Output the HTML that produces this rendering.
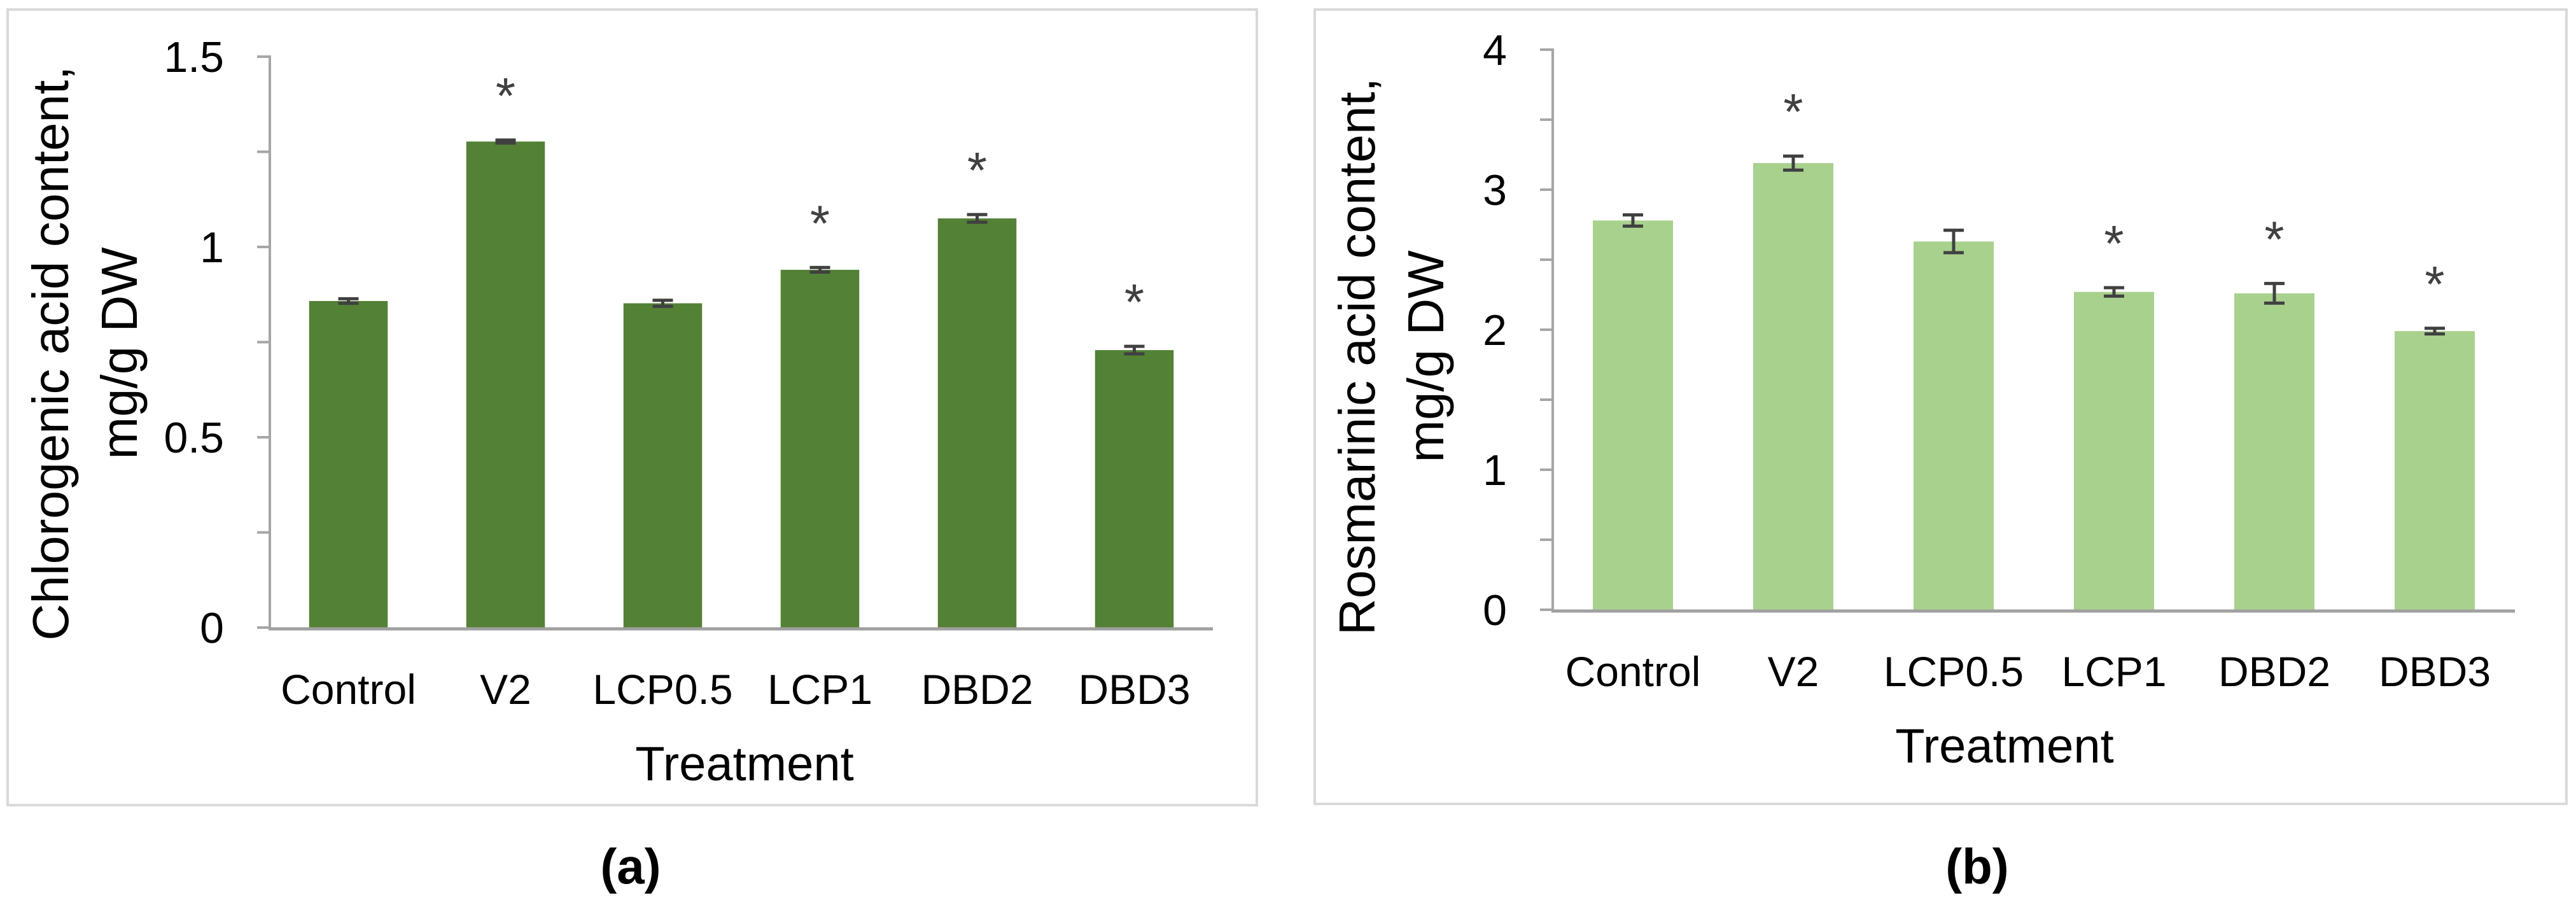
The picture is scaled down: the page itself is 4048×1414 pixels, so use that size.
<!DOCTYPE html>
<html><head><meta charset="utf-8"><style>
html,body{margin:0;padding:0;background:#fff;}
svg{display:block;font-family:"Liberation Sans",sans-serif;}
</style></head><body>
<svg id="fig" width="4048" height="1414" viewBox="0 0 4048 1414" xmlns="http://www.w3.org/2000/svg">
<rect x="0" y="0" width="4048" height="1414" fill="#fff"/>
<rect x="12" y="15" width="1963" height="1250" fill="none" stroke="#d9d9d9" stroke-width="4"/>
<rect x="2066" y="15" width="1967" height="1248" fill="none" stroke="#d9d9d9" stroke-width="4"/>
<g id="pa"></g>
<g id="pb"></g>
<text x="991" y="1388" font-size="78" font-weight="bold" text-anchor="middle" fill="#000">(a)</text>
<text x="3107" y="1388" font-size="78" font-weight="bold" text-anchor="middle" fill="#000">(b)</text>
</svg>
<script>
const categories = ["Control","V2","LCP0.5","LCP1","DBD2","DBD3"];
const valuesA = [0.858, 1.277, 0.852, 0.94, 1.075, 0.729];
const errorsA = [0.006, 0.004, 0.008, 0.006, 0.01, 0.01];
const sigA = [false, true, false, true, true, true];
const ticksA = [0, 0.25, 0.5, 0.75, 1, 1.25, 1.5];
const tickLabelsA = ["0","","0.5","","1","","1.5"];
const valuesB = [2.78, 3.19, 2.63, 2.27, 2.26, 1.99];
const errorsB = [0.04, 0.05, 0.08, 0.03, 0.07, 0.02];
const sigB = [false, true, false, true, true, true];
const ticksB = [0, 0.5, 1, 1.5, 2, 2.5, 3, 3.5, 4];
const tickLabelsB = ["0","","1","","2","","3","","4"];

const NS = "http://www.w3.org/2000/svg";
function mk(parent, tag, attrs, text){
  const e = document.createElementNS(NS, tag);
  for (const k in attrs) e.setAttribute(k, attrs[k]);
  if (text !== undefined) e.textContent = text;
  parent.appendChild(e);
  return e;
}

function drawChart(g, cfg){
  const y = v => cfg.y0 - (v - 0) / (cfg.ymax) * (cfg.y0 - cfg.ytop);
  const pitch = (cfg.xR - cfg.xL) / categories.length;
  const cx = i => cfg.xL + pitch * (i + 0.5);
  const bw = pitch * 0.5;
  cfg.ticks.forEach((t, i) => {
    const tk = mk(g, "line", {x1: cfg.xL - 20, x2: cfg.xL, y1: y(t), y2: y(t), stroke: "#a6a6a6", "stroke-width": 4});
    
    
    if (cfg.tickLabels[i] !== "") {
      const tl = mk(g, "text", {x: cfg.xL - 72, y: y(t) + 24, "font-size": 68, "text-anchor": "end", fill: "#000"}, cfg.tickLabels[i]);
      
      
    }
  });
  cfg.values.forEach((v, i) => {
    const b = mk(g, "rect", {x: cx(i) - bw / 2, y: y(v), width: bw, height: y(0) - y(v), fill: cfg.color});
    
    
    const e = cfg.errors[i];
    const eg = mk(g, "g", {stroke: "#404040", "stroke-width": 5});
    
    
    mk(eg, "line", {x1: cx(i), x2: cx(i), y1: y(v + e), y2: y(v - e)});
    mk(eg, "line", {x1: cx(i) - 16, x2: cx(i) + 16, y1: y(v + e), y2: y(v + e)});
    mk(eg, "line", {x1: cx(i) - 16, x2: cx(i) + 16, y1: y(v - e), y2: y(v - e)});
    if (cfg.sig[i]) {
      const s = mk(g, "text", {x: cx(i), y: y(v + e) - 88 + 46, "font-size": 80, "text-anchor": "middle", fill: "#404040"}, "*");
      
      
    }
    const cl = mk(g, "text", {x: cx(i), y: y(0) + 120, "font-size": 66, "text-anchor": "middle", fill: "#000"}, categories[i]);
    
    
  });
  const ya = mk(g, "line", {x1: cfg.xL, x2: cfg.xL, y1: y(cfg.ymax) - 2, y2: y(0), stroke: "#a6a6a6", "stroke-width": 4});
  
  
  const xa = mk(g, "line", {x1: cfg.xL - 2, x2: cfg.xR, y1: y(0) + 2, y2: y(0) + 2, stroke: "#a0a0a0", "stroke-width": 5});
  
  
  const xt = mk(g, "text", {x: cfg.xTitleX, y: y(0) + 240, "font-size": 76, "text-anchor": "middle", fill: "#000"}, "Treatment");
  
  
  const yt = mk(g, "text", {transform: "translate(" + cfg.yTitleX + "," + cfg.yTitleY + ") rotate(-90)", "font-size": 80, "text-anchor": "middle", fill: "#000"});
  
  
  mk(yt, "tspan", {x: 0, y: 0}, cfg.title1);
  mk(yt, "tspan", {x: 0, y: 108}, cfg.title2);
}

drawChart(document.getElementById("pa"), {
  xL: 424, xR: 1906, y0: 986, ytop: 89, ymax: 1.5, color: "#538135",
  values: valuesA, errors: errorsA, sig: sigA, ticks: ticksA, tickLabels: tickLabelsA,
  xTitleX: 1170, yTitleX: 107, yTitleY: 555, title1: "Chlorogenic acid content,", title2: "mg/g DW"
});
drawChart(document.getElementById("pb"), {
  xL: 2440, xR: 3952, y0: 958, ytop: 78, ymax: 4, color: "#a9d18e",
  values: valuesB, errors: errorsB, sig: sigB, ticks: ticksB, tickLabels: tickLabelsB,
  xTitleX: 3150, yTitleX: 2160, yTitleY: 560, title1: "Rosmarinic acid content,", title2: "mg/g DW"
});
</script>
</body></html>
